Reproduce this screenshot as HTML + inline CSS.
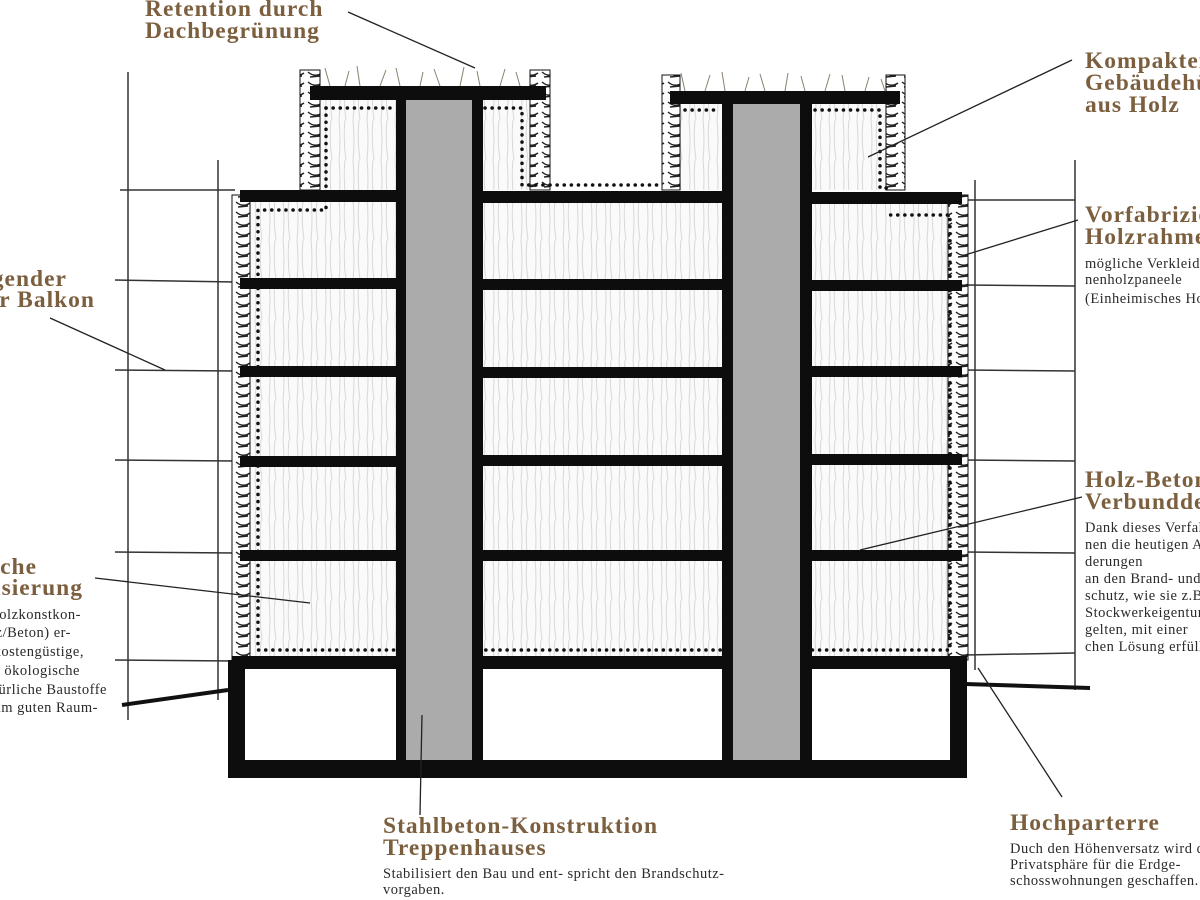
<!DOCTYPE html>
<html><head><meta charset="utf-8"><style>
html,body{margin:0;padding:0;background:#fff;width:1200px;height:900px;overflow:hidden}
svg{display:block}
.h{font-family:"Liberation Serif",serif;font-weight:bold;font-size:23.5px;fill:#7b5f3e;letter-spacing:1px}
.b{font-family:"Liberation Serif",serif;font-size:14.5px;fill:#2a2a2a;letter-spacing:0.5px}
</style></head><body>
<svg width="1200" height="900" viewBox="0 0 1200 900" xmlns="http://www.w3.org/2000/svg">
<defs>
<pattern id="wood" width="14" height="40" patternUnits="userSpaceOnUse">
<rect width="14" height="40" fill="#fafafa"/>
<path d="M3 0 Q5 20 3 40 M9 0 Q7 20 10 40" stroke="#d8d8d8" stroke-width="1" fill="none"/>
</pattern>
<pattern id="hatch" width="18" height="10" patternUnits="userSpaceOnUse">
<rect width="18" height="10" fill="#fff"/>
<path d="M2 2 Q9 8 16 3 M4 7 L14 6" stroke="#222" stroke-width="1.4" fill="none"/>
</pattern>
</defs>

<!-- scaffolding -->
<g stroke="#333" stroke-width="1.5" fill="none">
<line x1="128" y1="72" x2="128" y2="720"/><line x1="218" y1="160" x2="218" y2="700"/>
<line x1="120" y1="190" x2="235" y2="190"/><line x1="115" y1="280" x2="235" y2="282"/>
<line x1="115" y1="370" x2="235" y2="371"/><line x1="115" y1="460" x2="235" y2="461"/>
<line x1="115" y1="552" x2="235" y2="553"/><line x1="115" y1="660" x2="235" y2="661"/>
<line x1="1075" y1="160" x2="1075" y2="690"/><line x1="975" y1="180" x2="975" y2="670"/>
<line x1="965" y1="200" x2="1075" y2="200"/><line x1="965" y1="285" x2="1075" y2="286"/>
<line x1="965" y1="370" x2="1075" y2="371"/><line x1="965" y1="460" x2="1075" y2="461"/>
<line x1="965" y1="552" x2="1075" y2="553"/><line x1="965" y1="655" x2="1075" y2="653"/>
</g>
<line x1="122" y1="705" x2="228" y2="690" stroke="#111" stroke-width="4"/>
<line x1="965" y1="684" x2="1090" y2="688" stroke="#111" stroke-width="4"/>

<!-- wood infill -->
<rect x="250" y="200" width="148" height="460" fill="url(#wood)"/>
<rect x="482" y="200" width="240" height="460" fill="url(#wood)"/>
<rect x="812" y="200" width="138" height="460" fill="url(#wood)"/>
<rect x="318" y="100" width="80" height="90" fill="url(#wood)"/>
<rect x="482" y="100" width="50" height="90" fill="url(#wood)"/>
<rect x="680" y="104" width="42" height="86" fill="url(#wood)"/>
<rect x="812" y="104" width="75" height="86" fill="url(#wood)"/>

<!-- hatched walls -->
<rect x="232" y="195" width="18" height="465" fill="url(#hatch)" stroke="#111"/>
<rect x="948" y="195" width="20" height="465" fill="url(#hatch)" stroke="#111"/>
<rect x="300" y="70" width="20" height="120" fill="url(#hatch)" stroke="#111"/>
<rect x="530" y="70" width="20" height="120" fill="url(#hatch)" stroke="#111"/>
<rect x="662" y="75" width="18" height="115" fill="url(#hatch)" stroke="#111"/>
<rect x="886" y="75" width="19" height="115" fill="url(#hatch)" stroke="#111"/>

<!-- dotted lines -->
<g stroke="#111" stroke-width="3.5" stroke-dasharray="0.1 7" stroke-linecap="round" fill="none">
<path d="M326 108 L395 108 M408 108 L470 108 M485 108 L522 108 L522 185 L550 185 L662 185 M685 110 L720 110 M738 110 L798 110 M815 110 L880 110 L880 188 L890 188"/>
<path d="M326 108 L326 210 L258 210 L258 650 L950 650 L950 215 L885 215"/>
</g>

<!-- cores -->
<rect x="405" y="100" width="67" height="660" fill="#ababab"/>
<rect x="733" y="104" width="67" height="656" fill="#ababab"/>
<g fill="#0d0d0d">
<rect x="396" y="95" width="10" height="670"/><rect x="472" y="95" width="11" height="670"/>
<rect x="722" y="98" width="11" height="667"/><rect x="800" y="98" width="12" height="667"/>
<rect x="310" y="86" width="236" height="14"/><rect x="670" y="91" width="230" height="13"/>
<rect x="240" y="190" width="158" height="12"/><rect x="482" y="191" width="240" height="12"/><rect x="812" y="192" width="150" height="12"/>
<rect x="240" y="278" width="158" height="11"/><rect x="482" y="279" width="240" height="11"/><rect x="812" y="280" width="150" height="11"/>
<rect x="240" y="366" width="158" height="11"/><rect x="482" y="367" width="240" height="11"/><rect x="812" y="366" width="150" height="11"/>
<rect x="240" y="456" width="158" height="11"/><rect x="482" y="455" width="240" height="11"/><rect x="812" y="454" width="150" height="11"/>
<rect x="240" y="550" width="158" height="11"/><rect x="482" y="550" width="240" height="11"/><rect x="812" y="550" width="150" height="11"/>
<rect x="232" y="656" width="166" height="13"/><rect x="482" y="656" width="240" height="13"/><rect x="812" y="656" width="155" height="13"/>
<rect x="228" y="660" width="17" height="118"/><rect x="950" y="660" width="17" height="118"/>
<rect x="228" y="760" width="739" height="18"/>
</g>

<!-- grass -->
<g stroke="#8a8270" stroke-width="1" fill="none">
<path d="M330 86 l-5 -18 M345 86 l4 -15 M360 86 l-3 -20 M380 86 l6 -16 M400 86 l-4 -18 M420 86 l3 -14 M440 86 l-6 -17 M460 86 l4 -19 M480 86 l-3 -15 M500 86 l5 -17 M520 86 l-4 -14"/>
<path d="M685 91 l-4 -18 M705 91 l5 -16 M725 91 l-3 -19 M745 91 l4 -14 M765 91 l-5 -17 M785 91 l3 -18 M805 91 l-4 -15 M825 91 l5 -17 M845 91 l-3 -16 M865 91 l4 -14 M885 91 l-4 -12"/>
</g>

<!-- leader lines -->
<g stroke="#222" stroke-width="1.3">
<line x1="348" y1="12" x2="475" y2="68"/>
<line x1="1072" y1="60" x2="868" y2="157"/>
<line x1="1078" y1="220" x2="965" y2="255"/>
<line x1="50" y1="318" x2="165" y2="370"/>
<line x1="95" y1="578" x2="310" y2="603"/>
<line x1="1082" y1="497" x2="860" y2="550"/>
<line x1="420" y1="815" x2="422" y2="715"/>
<line x1="1062" y1="797" x2="978" y2="668"/>
</g>

<!-- labels -->
<text class="h" x="145" y="16">Retention durch</text>
<text class="h" x="145" y="38">Dachbegrünung</text>

<text class="h" x="1085" y="68">Kompakter</text>
<text class="h" x="1085" y="90">Gebäudehülle</text>
<text class="h" x="1085" y="112">aus Holz</text>

<text class="h" x="1085" y="222">Vorfabrizierte</text>
<text class="h" x="1085" y="244">Holzrahmen</text>
<text class="b" x="1085" y="268">mögliche Verkleidung</text>
<text class="b" x="1085" y="284">nenholzpaneele</text>
<text class="b" x="1085" y="303">(Einheimisches Holz)</text>

<text class="h" x="67" y="286" text-anchor="end">ragender</text>
<text class="h" x="95" y="307" text-anchor="end">oder Balkon</text>

<text class="h" x="37" y="574" text-anchor="end">Ökologische</text>
<text class="h" x="83" y="595" text-anchor="end">Dimensierung</text>
<text class="b" x="81" y="619" text-anchor="end">Holzkonstkon-</text>
<text class="b" x="71" y="637" text-anchor="end">(Holz/Beton) er-</text>
<text class="b" x="84" y="656" text-anchor="end">kostengüstige,</text>
<text class="b" x="80" y="675" text-anchor="end">ökologische</text>
<text class="b" x="107" y="694" text-anchor="end">natürliche Baustoffe</text>
<text class="b" x="98" y="712" text-anchor="end">zum guten Raum-</text>

<text class="h" x="1085" y="487">Holz-Beton-</text>
<text class="h" x="1085" y="509">Verbunddecke</text>
<text class="b" x="1085" y="532">Dank dieses Verfahrens</text>
<text class="b" x="1085" y="549">nen die heutigen Anfor-</text>
<text class="b" x="1085" y="566">derungen</text>
<text class="b" x="1085" y="583">an den Brand- und Schall-</text>
<text class="b" x="1085" y="600">schutz, wie sie z.B. für</text>
<text class="b" x="1085" y="617">Stockwerkeigentum</text>
<text class="b" x="1085" y="634">gelten, mit einer</text>
<text class="b" x="1085" y="651">chen Lösung erfüllt</text>

<text class="h" x="383" y="833">Stahlbeton-Konstruktion</text>
<text class="h" x="383" y="855">Treppenhauses</text>
<text class="b" x="383" y="878">Stabilisiert den Bau und ent- spricht den Brandschutz-</text>
<text class="b" x="383" y="894">vorgaben.</text>

<text class="h" x="1010" y="830">Hochparterre</text>
<text class="b" x="1010" y="853">Duch den Höhenversatz wird die</text>
<text class="b" x="1010" y="869">Privatsphäre für die Erdge-</text>
<text class="b" x="1010" y="885">schosswohnungen geschaffen.</text>
</svg>
</body></html>
